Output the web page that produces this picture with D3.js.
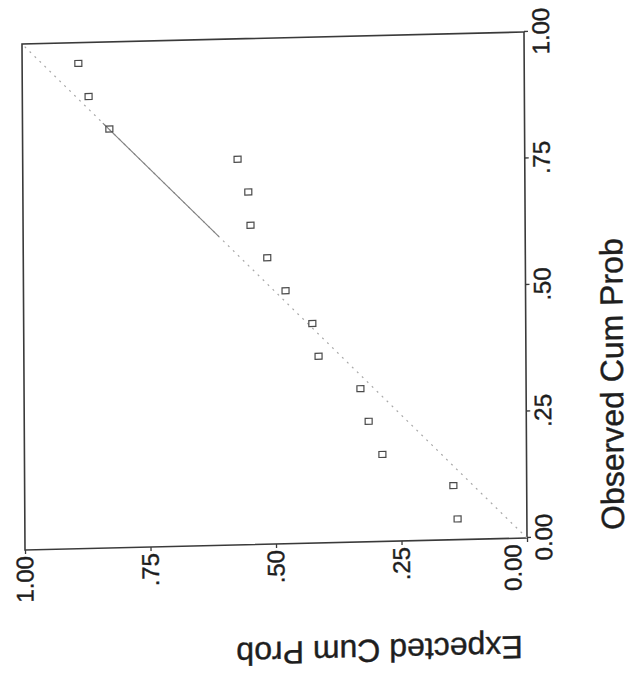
<!DOCTYPE html>
<html><head><meta charset="utf-8">
<script src="https://cdn.jsdelivr.net/npm/d3@7"></script>
<style>body{margin:0;background:#fff}</style></head>
<body><svg id="chart" width="639" height="678"></svg>
<script>
// Data read from the (rotated, scanned) normal P-P plot
const observedCumProb = [0.041, 0.107, 0.172, 0.238, 0.303, 0.369, 0.434, 0.500, 0.566, 0.631, 0.697, 0.762, 0.828, 0.893, 0.959];
const expectedCumProb = [0.139, 0.147, 0.288, 0.315, 0.331, 0.414, 0.426, 0.479, 0.515, 0.548, 0.552, 0.573, 0.828, 0.869, 0.889];
const tickValues = [0, 0.25, 0.5, 0.75, 1];
const tickLabels = ["0.00", ".25", ".50", ".75", "1.00"];
const referenceLine = [0, 1];
const emphasisSegment = [0.61, 0.84];
const xTitle = "Observed Cum Prob";
const yTitle = "Expected Cum Prob";

const W = 506, H = 502;
const font = "'Liberation Sans', Arial, sans-serif";
const ink = "#1e1e1e";
const svg = d3.select("#chart");
svg.append("rect").attr("width", 639).attr("height", 678).attr("fill", "#fff");

// The scanned page is turned a quarter turn counter-clockwise (slightly skewed)
const g = svg.append("g").attr("transform", "matrix(-0.00593,-1,1,-0.0239,25,550)");

const x = d3.scaleLinear().domain([0, 1]).range([0, W]);
const y = d3.scaleLinear().domain([0, 1]).range([H, 0]);
const fmt = d => tickLabels[tickValues.indexOf(d)];

// frame
g.append("rect").attr("x", 0).attr("y", 0).attr("width", W).attr("height", H)
  .attr("fill", "none").attr("stroke", "#3a3a3a").attr("stroke-width", 1.6);

// reference diagonal
g.append("line")
  .attr("x1", x(referenceLine[0])).attr("y1", y(referenceLine[0]))
  .attr("x2", x(referenceLine[1])).attr("y2", y(referenceLine[1]))
  .attr("stroke", "#a8a8a8").attr("stroke-width", 1.2).attr("stroke-dasharray", "2,5");
g.append("line")
  .attr("x1", x(emphasisSegment[0])).attr("y1", y(emphasisSegment[0]))
  .attr("x2", x(emphasisSegment[1])).attr("y2", y(emphasisSegment[1]))
  .attr("stroke", "#808080").attr("stroke-width", 1.1);

// axes
const xAxis = g.append("g").attr("transform", `translate(0,${H})`)
  .call(d3.axisBottom(x).tickValues(tickValues).tickFormat(fmt).tickSize(4).tickPadding(4));
const yAxis = g.append("g")
  .call(d3.axisLeft(y).tickValues(tickValues).tickFormat(fmt).tickSize(4).tickPadding(2));
[xAxis, yAxis].forEach(a => {
  a.select(".domain").remove();
  a.selectAll("line").attr("stroke", "#3a3a3a").attr("stroke-width", 1.3);
  a.selectAll("text").attr("font-family", font).attr("font-size", 24).attr("fill", ink)
    .attr("stroke", ink).attr("stroke-width", 0.4);
});
yAxis.selectAll(".tick text").filter(d => d === 0).attr("transform", "translate(0,-14)");

// points
g.append("g").selectAll("rect").data(observedCumProb).join("rect")
  .attr("x", (d, i) => x(d) - 3).attr("y", (d, i) => y(expectedCumProb[i]) - 3)
  .attr("width", 6).attr("height", 7)
  .attr("fill", "none").attr("stroke", "#4a4a4a").attr("stroke-width", 1.2);

// titles
g.append("text").attr("x", x(0.3)).attr("y", H + 97)
  .attr("text-anchor", "middle").attr("font-family", font).attr("font-size", 32).attr("fill", ink)
  .attr("stroke", ink).attr("stroke-width", 0.4)
  .text(xTitle);
g.append("text").attr("transform", `translate(-98,${y(0.295)}) rotate(-90)`)
  .attr("text-anchor", "middle").attr("font-family", font).attr("font-size", 32).attr("fill", ink)
  .attr("stroke", ink).attr("stroke-width", 0.4)
  .text(yTitle);
</script></body></html>
